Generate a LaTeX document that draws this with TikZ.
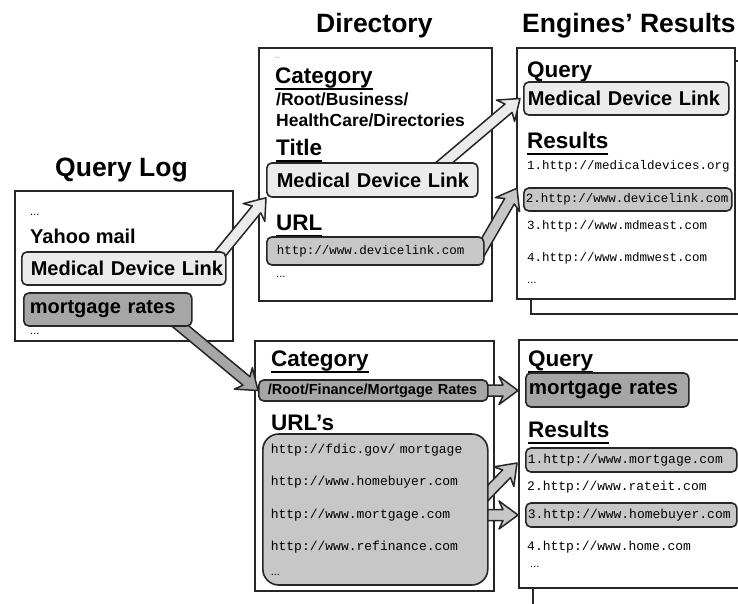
\documentclass[tikz,border=0pt]{standalone}
\usepackage{fontspec}
\setmainfont{Liberation Sans}
\setmonofont{Liberation Mono}
\usetikzlibrary{calc}

\pgfdeclarelayer{background}
\pgfdeclarelayer{links}
\pgfsetlayers{background,links,main}

\definecolor{paleg}{gray}{0.92}
\definecolor{midg}{gray}{0.78}
\definecolor{arrowg}{gray}{0.70}
\definecolor{darkg}{gray}{0.65}
\definecolor{inkg}{gray}{0.15}

\newcommand{\fTitle}{\fontsize{26.5}{30}\selectfont\bfseries}
\newcommand{\fHead}{\fontsize{22.5}{26}\selectfont\bfseries}
\newcommand{\fItem}{\fontsize{20}{24}\selectfont\bfseries}
\newcommand{\fUrl}{\fontsize{12.5}{15}\selectfont\ttfamily}
\newcommand{\fDots}{\fontsize{11}{12}\selectfont}

% heading with a heavy rule under it
\newcommand{\ulhead}[1]{\setbox0\hbox{#1}\rlap{\rule[-6.5pt]{\wd0}{2pt}}\box0}

% block arrow from #2 to #3, filled with #1
\newcommand{\blockarrow}[3]{%
  \coordinate (ba-s) at (#2);
  \coordinate (ba-t) at (#3);
  \coordinate (ba-j) at ($(ba-t)!15pt!(ba-s)$);
  \coordinate (ba-b) at ($(ba-t)!19pt!(ba-s)$);
  \draw[linkarrow,fill=#1]
    ($(ba-s)!5.5pt!90:(ba-t)$) -- ($(ba-j)!5.5pt!90:(ba-t)$) -- ($(ba-b)!14pt!90:(ba-t)$)
    -- (ba-t) -- ($(ba-b)!14pt!-90:(ba-t)$) -- ($(ba-j)!5.5pt!-90:(ba-t)$)
    -- ($(ba-s)!5.5pt!-90:(ba-t)$) -- cycle;
}

\begin{document}
\begin{tikzpicture}[x=1pt,y=-1pt,
  panel/.style={draw=inkg,line width=2.4pt,fill=white,anchor=north west,inner sep=0pt},
  bigtitle/.style={font=\fTitle,anchor=base west,inner sep=0pt},
  subhead/.style={font=\fHead,anchor=base west,inner sep=0pt},
  itemtxt/.style={font=\fItem,anchor=base west,inner sep=0pt},
  urltxt/.style={font=\fUrl,anchor=base west,inner sep=0pt},
  dotstxt/.style={font=\fDots,anchor=base west,inner sep=0pt},
  entry/.style={draw=inkg,line width=1.6pt,rounded corners=5pt,anchor=west,align=left,inner ysep=0pt},
  linkarrow/.style={draw=inkg,line width=1.5pt,line join=round}]
  \useasboundingbox (0,0) rectangle (738,603);

  % sheets
  \begin{pgfonlayer}{background}
    \node[panel,minimum width=218pt,minimum height=150pt] (log) at (14,190) {};
    \node[panel,minimum width=233pt,minimum height=253pt] (dirtop) at (258,47) {};
    \node[panel,minimum width=240pt,minimum height=253pt] (engtopback) at (530,60) {};
    \node[panel,minimum width=218pt,minimum height=251pt] (engtop) at (516,47) {};
    \node[panel,minimum width=239pt,minimum height=250pt] (dirbot) at (254,340) {};
    \node[panel,minimum width=240pt,minimum height=270pt] (engbotback) at (532,352) {};
    \node[panel,minimum width=240pt,minimum height=248pt] (engbot) at (518,339) {};
  \end{pgfonlayer}

  % query log
  \node[bigtitle] (tlog) at (55,176) {Query Log};
  \node[dotstxt] (logdots1) at (30,215) {...};
  \node[itemtxt] (yahoo) at (30,243) {Yahoo mail};
  \node[entry,font=\fItem,fill=paleg,minimum height=33pt,text width=186pt,inner xsep=9pt]
    (qmed) at (21,268.5) {\mbox{Medical Device Link}};
  \node[entry,font=\fItem,fill=darkg,minimum height=33pt,text width=156pt,inner xsep=6pt]
    (qmort) at (23,309.5) {\mbox{mortgage rates}};
  \node[dotstxt] (logdots2) at (30,334) {...};

  % directory, first entry
  \node[bigtitle] (tdir) at (316,32) {Directory};
  \node[dotstxt,font=\fontsize{5}{6}\selectfont] (dirdots0) at (275,58) {...};
  \node[subhead] (dcathead) at (275,83) {\ulhead{Category}};
  \node[anchor=north west,inner sep=0pt,align=left,font=\fontsize{17.5}{21}\selectfont\bfseries]
    (dcatpath) at (276,93) {/Root/Business/\\HealthCare/Directories};
  \node[subhead] (dtitlehead) at (276,155) {\ulhead{Title}};
  \node[entry,font=\fItem,fill=paleg,minimum height=34pt,text width=191pt,inner xsep=10pt]
    (dtitle) at (266,180) {\mbox{Medical Device Link}};
  \node[subhead] (durlhead) at (276,230) {\ulhead{URL}};
  \node[entry,font=\fUrl,fill=midg,minimum height=28pt,text width=197pt,inner xsep=10pt]
    (durl) at (266,251) {\mbox{http://www.devicelink.com}};
  \node[dotstxt] (dirdots1) at (276,277) {...};

  % engines, first query
  \node[bigtitle] (teng) at (522,32) {Engines’ Results};
  \node[subhead] (eqhead) at (527,77) {\ulhead{Query}};
  \node[entry,font=\fItem,fill=paleg,minimum height=33pt,text width=197pt,inner xsep=4pt]
    (equery) at (523,98.5) {\mbox{Medical Device Link}};
  \node[subhead] (ereshead) at (527,148) {\ulhead{Results}};
  \node[urltxt] (eres1) at (527,169) {1.http://medicaldevices.org};
  \node[entry,font=\fUrl,fill=midg,minimum height=23pt,text width=204pt,inner xsep=2pt]
    (eres2) at (523,199.5) {\mbox{2.http://www.devicelink.com}};
  \node[urltxt] (eres3) at (527,229) {3.http://www.mdmeast.com};
  \node[urltxt] (eres4) at (527,261) {4.http://www.mdmwest.com};
  \node[dotstxt] (edots) at (527,283) {...};

  % directory, second entry
  \node[subhead] (bcathead) at (271,366) {\ulhead{Category}};
  \node[entry,font=\fontsize{14.5}{16}\selectfont\bfseries,fill=darkg,minimum height=21pt,
    text width=211pt,inner xsep=9pt] (bcat) at (258,390.5) {\mbox{/Root/Finance/Mortgage Rates}};
  \node[subhead] (burlhead) at (271,430) {\ulhead{URL’s}};
  \node[entry,font=\fontsize{13}{32.5}\selectfont\ttfamily,fill=midg,rounded corners=16pt,
    minimum height=151pt,text width=209pt,inner xsep=8pt] (burls) at (262,509.5)
    {\mbox{http://fdic.gov/ mortgage}\\\mbox{http://www.homebuyer.com}\\\mbox{http://www.mortgage.com}\\
     \mbox{http://www.refinance.com}\\[-8pt]{\rmfamily\fontsize{11}{32.5}\selectfont...}};

  % engines, second query
  \node[subhead] (bqhead) at (528,366) {\ulhead{Query}};
  \node[entry,font=\fontsize{20.5}{24}\selectfont\bfseries,fill=darkg,minimum height=34pt,
    text width=157pt,inner xsep=3pt] (bquery) at (525,390) {\mbox{mortgage rates}};
  \node[subhead] (breshead) at (528,437) {\ulhead{Results}};
  \node[entry,font=\fontsize{13}{15}\selectfont\ttfamily,fill=midg,minimum height=24pt,
    text width=207pt,inner xsep=2pt] (bres1) at (525,460) {\mbox{1.http://www.mortgage.com}};
  \node[urltxt,font=\fontsize{13}{15}\selectfont\ttfamily] (bres2) at (527,490) {2.http://www.rateit.com};
  \node[entry,font=\fontsize{13}{15}\selectfont\ttfamily,fill=midg,minimum height=24pt,
    text width=207pt,inner xsep=2pt] (bres3) at (525,515) {\mbox{3.http://www.homebuyer.com}};
  \node[urltxt,font=\fontsize{13}{15}\selectfont\ttfamily] (bres4) at (527,550) {4.http://www.home.com};
  \node[dotstxt] (bdots) at (530,567) {...};

  % links between the entries
  \begin{pgfonlayer}{links}
    \blockarrow{paleg}{$(qmed.north east)+(-15,13)$}{dtitle.south west}
    \blockarrow{paleg}{$(dtitle.north east)+(-48,12)$}{$(equery.west)+(-3,0)$}
    \blockarrow{midg}{$(durl.east)+(-8,7)$}{$(eres2.north west)+(-6,1)$}
    \blockarrow{darkg}{$(qmort.south east)+(-21,-8)$}{bcat.west}
    \blockarrow{arrowg}{$(bcat.east)+(-10,0)$}{$(bcat.east -| bquery.west)+(-7,0)$}
    \blockarrow{midg}{$(burls.east)+(-9,-8)$}{$(bres1.west)+(-8,3)$}
    \blockarrow{midg}{$(burls.east |- bres3.west)+(-10,0)$}{$(bres3.west)+(-7,0)$}
  \end{pgfonlayer}
\end{tikzpicture}
\end{document}
